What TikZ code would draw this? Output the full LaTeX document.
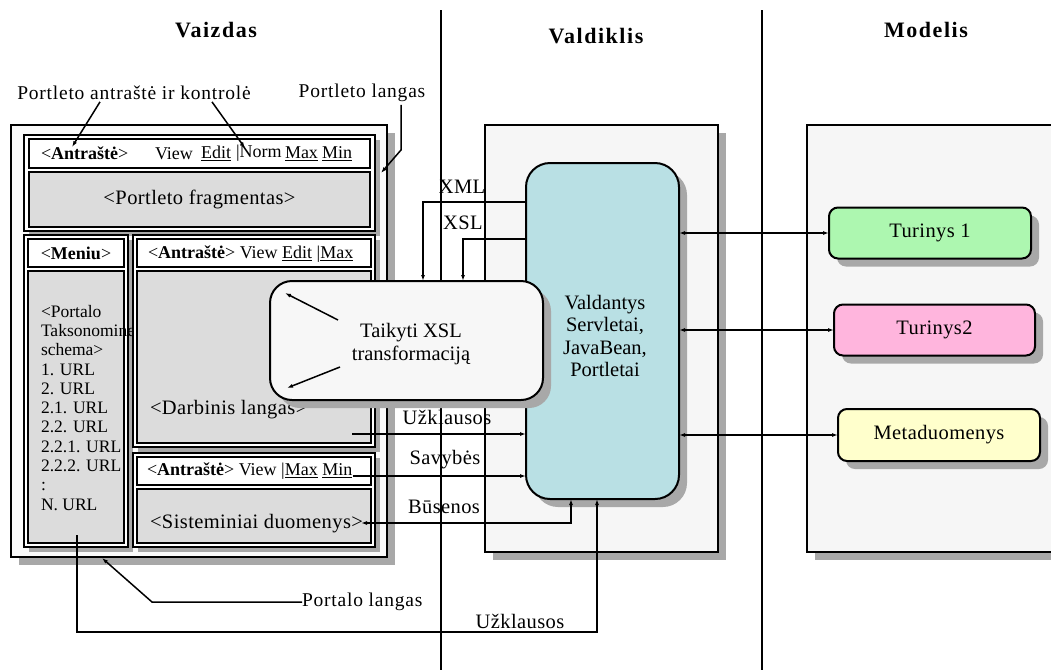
\documentclass[tikz,border=0pt]{standalone}
\usepackage{fontspec}
\setmainfont{Liberation Serif}
\usetikzlibrary{arrows.meta,shadows}

\definecolor{panelfill}{RGB}{246,246,246}
\definecolor{portalfill}{RGB}{250,250,250}
\definecolor{cellgray}{RGB}{220,220,220}
\definecolor{shadowgray}{RGB}{168,168,168}
\definecolor{ctrlblue}{RGB}{185,224,228}
\definecolor{bubblefill}{RGB}{247,247,247}
\definecolor{greenbox}{RGB}{173,247,176}
\definecolor{pinkbox}{RGB}{255,181,221}
\definecolor{yellowbox}{RGB}{255,255,204}

\newcommand\fnorm{\fontsize{20.5}{23}\selectfont\addfontfeatures{LetterSpace=2}}
\newcommand\fhead{\fontsize{18}{20}\selectfont}
\newcommand\fmenu{\fontsize{17.5}{19.3}\selectfont}
\newcommand\ftitle{\fontsize{22}{24}\selectfont\bfseries\addfontfeatures{LetterSpace=7}}
\newcommand\fcall{\fontsize{19.5}{22}\selectfont\addfontfeatures{LetterSpace=4}}

\begin{document}
\begin{tikzpicture}[x=1pt,y=-1pt,
  shadeL/.style={drop shadow={shadow xshift=8pt,shadow yshift=-8pt,fill=shadowgray,opacity=1}},
  shadeS/.style={drop shadow={shadow xshift=5pt,shadow yshift=-5pt,fill=shadowgray,opacity=1}},
  boxnode/.style={rectangle,inner sep=0pt,outer sep=0pt},
  panel/.style={boxnode,draw,line width=1.5pt,fill=panelfill,shadeL},
  portal/.style={boxnode,draw,line width=1.5pt,fill=portalfill,shadeL},
  portlet/.style={boxnode,draw,line width=1.5pt,fill=white,shadeS},
  headcell/.style={boxnode,draw,line width=2.5pt,fill=white},
  graycell/.style={boxnode,draw,line width=2.5pt,fill=cellgray},
  modelbox/.style={boxnode,draw,line width=2pt,rounded corners=9pt,shadeL,font=\fnorm},
  txt/.style={inner sep=0pt,outer sep=0pt},
  divider/.style={line width=1.6pt},
  conn/.style={line width=1.5pt},
  arr/.style={conn,-{Latex[length=6pt,width=4pt]}},
  arrtwo/.style={conn,{Latex[length=6pt,width=4pt]}-{Latex[length=6pt,width=4pt]}},
]
\useasboundingbox (0,0) rectangle (1051,670);
\fill[white] (0,0) rectangle (1051,670);

% ---- background panels of the controller and model layers
\node[panel,minimum width=233pt,minimum height=427pt] (ctrlpanel) at (601.5,338.5) {};
\node[panel,minimum width=263pt,minimum height=427pt] (modelpanel) at (938.5,338.5) {};

% ---- layer dividers
\draw[divider] (441,10) -- (441,670);
\draw[divider] (762,10) -- (762,670);

% ---- layer titles
\node[txt,font=\ftitle] (tview) at (216,30) {Vaizdas};
\node[txt,font=\ftitle] (tctrl) at (596,36) {Valdiklis};
\node[txt,font=\ftitle] (tmodel) at (926,30) {Modelis};

% ---- portal window
\node[portal,minimum width=376pt,minimum height=432pt] (portal) at (199,341) {};

% top portlet
\node[portlet,minimum width=351pt,minimum height=96pt] (p1) at (199.5,183) {};
\node[headcell,minimum width=341pt,minimum height=29pt] (p1head) at (199.5,153.5) {};
\node[graycell,minimum width=341pt,minimum height=55pt,font=\fnorm] (p1body) at (199.5,199.5) {<Portleto fragmentas>};
\node[txt,anchor=west,font=\fhead] (p1t1) at (41,153.5) {<\textbf{Antraštė}>};
\node[txt,anchor=west,font=\fhead] (p1t2) at (155,153.5) {View};
\node[txt,anchor=west,font=\fhead] (p1t3) at (201,153.5) {\underline{Edit}};
\node[txt,anchor=west,font=\fhead] (p1t4) at (236,153.5) {|Norm};
\node[txt,anchor=west,font=\fhead] (p1t5) at (285,153.5) {\underline{Max}};
\node[txt,anchor=west,font=\fhead] (p1t6) at (322,153.5) {\underline{Min}};

% menu column
\node[portlet,minimum width=104pt,minimum height=312pt] (menu) at (76,391) {};
\node[headcell,minimum width=96pt,minimum height=28pt,font=\fhead] (menuhead) at (76,253) {<\textbf{Meniu}>};
\node[graycell,minimum width=96pt,minimum height=272pt] (menubody) at (76,407) {};
\node[txt,anchor=north west,align=left,font=\fmenu] (menutext) at (41,305)
  {<Portalo\\Taksonomine\\schema>\\1. URL\\2. URL\\2.1. URL\\2.2. URL\\2.2.1. URL\\2.2.2. URL\\:\\N. URL};

% working portlet
\node[portlet,minimum width=242pt,minimum height=212pt] (p2) at (254,341) {};
\node[headcell,minimum width=234pt,minimum height=28pt] (p2head) at (254,253) {};
\node[graycell,minimum width=234pt,minimum height=172pt] (p2body) at (254,357) {};
\node[txt,anchor=west,font=\fhead] (p2t) at (148,254) {<\textbf{Antraštė}> View \underline{Edit} |\underline{Max}};
\node[txt,anchor=west,font=\fnorm] (p2txt) at (150,410) {<Darbinis langas>};

% system data portlet
\node[portlet,minimum width=242pt,minimum height=94pt] (p3) at (254,500) {};
\node[headcell,minimum width=234pt,minimum height=28pt] (p3head) at (254,471) {};
\node[graycell,minimum width=234pt,minimum height=54pt] (p3body) at (254,516) {};
\node[txt,anchor=west,font=\fhead] (p3t) at (147,471) {<\textbf{Antraštė}> View |\underline{Max} \underline{Min}};
\node[txt,anchor=west,font=\fnorm] (p3txt) at (150,524) {<Sisteminiai duomenys>};

% ---- controller
\node[boxnode,draw,line width=2pt,fill=ctrlblue,rounded corners=24pt,shadeL,
      minimum width=153pt,minimum height=336pt] (ctrl) at (602.5,331) {};
\node[txt,align=center,font=\fontsize{20.5}{22.5}\selectfont] (ctrltext) at (605,336)
  {Valdantys\\Servletai,\\JavaBean,\\Portletai};

% ---- model boxes
\node[modelbox,fill=greenbox,minimum width=202pt,minimum height=51pt] (t1) at (930,233) {Turinys 1};
\node[modelbox,fill=pinkbox,minimum width=201pt,minimum height=51pt] (t2) at (934.5,330) {Turinys2};
\node[modelbox,fill=yellowbox,minimum width=202pt,minimum height=52pt] (meta) at (939,435) {Metaduomenys};

% ---- controller <-> model
\draw[arrtwo] (ctrl.east |- t1.west) -- (t1.west);
\draw[arrtwo] (ctrl.east |- t2.west) -- (t2.west);
\draw[arrtwo] (ctrl.east |- meta.west) -- (meta.west);

% ---- XSL transformation bubble
\node[boxnode,draw,line width=2pt,fill=bubblefill,rounded corners=22pt,shadeL,
      minimum width=273pt,minimum height=119pt] (bubble) at (406.5,340.5) {};
\node[txt,align=center,font=\fontsize{20.5}{23}\selectfont] (bubbletext) at (411,344)
  {Taikyti XSL\\transformaciją};
\coordinate (bin1) at (338,320);
\coordinate (bout1) at (285,293);
\coordinate (bin2) at (340,367);
\coordinate (bout2) at (287,388);
\draw[arr] (bin1) -- (bout1);
\draw[arr] (bin2) -- (bout2);

% ---- controller -> bubble (XML, XSL)
\coordinate (xmlrow) at (0,202);
\coordinate (xmlcol) at (423,0);
\coordinate (xslrow) at (0,239);
\coordinate (xslcol) at (463,0);
\draw[arr] (ctrl.west |- xmlrow) -| (bubble.north -| xmlcol);
\draw[arr] (ctrl.west |- xslrow) -| (bubble.north -| xslcol);
\node[txt,font=\fnorm] (lxml) at (462,187) {XML};
\node[txt,font=\fnorm] (lxsl) at (463,223) {XSL};

% ---- view -> controller
\coordinate (uzka) at (352,434);
\coordinate (sava) at (353,476);
\draw[arr] (uzka) -- (ctrl.west |- uzka);
\draw[arr] (sava) -- (ctrl.west |- sava);
\node[txt,font=\fnorm] (luzka) at (447,417) {Užklausos};
\node[txt,font=\fnorm] (lsav) at (445,460) {Savybės};

% controller <-> system data
\coordinate (busa) at (361,523);
\coordinate (buscol) at (571,0);
\draw[arrtwo] (busa) -| (ctrl.south -| buscol);
\node[txt,font=\fnorm] (lbus) at (444,507) {Būsenos};

% menu -> controller
\coordinate (uzkb) at (77,535);
\coordinate (uzkcorner) at (597,632);
\draw[arr] (uzkb) |- (uzkcorner) -| (ctrl.south -| uzkcorner);
\node[txt,font=\fnorm] (luzkb) at (520,621) {Užklausos};

% ---- callouts
\node[txt,font=\fcall] (lhead) at (134,93) {Portleto antraštė ir kontrolė};
\node[txt,font=\fcall] (lwin) at (362,93) {Portleto langas};
\node[txt,anchor=west,font=\fcall] (lportal) at (302,602) {Portalo langas};
\coordinate (tiphead1) at (72,147);
\coordinate (tiphead2) at (245,148);
\coordinate (winbend) at (401,150);
\coordinate (tipwin) at (381,173);
\coordinate (portbend) at (152,602);
\coordinate (tipportal) at (102,558);
\draw[arr] ([xshift=-34pt,yshift=-2pt]lhead.south) -- (tiphead1);
\draw[arr] ([xshift=78pt,yshift=-2pt]lhead.south) -- (tiphead2);
\draw[arr] ([xshift=39pt,yshift=-3pt]lwin.south) -- (winbend) -- (tipwin);
\draw[arr] (lportal.west) -- (portbend) -- (tipportal);
\end{tikzpicture}
\end{document}
